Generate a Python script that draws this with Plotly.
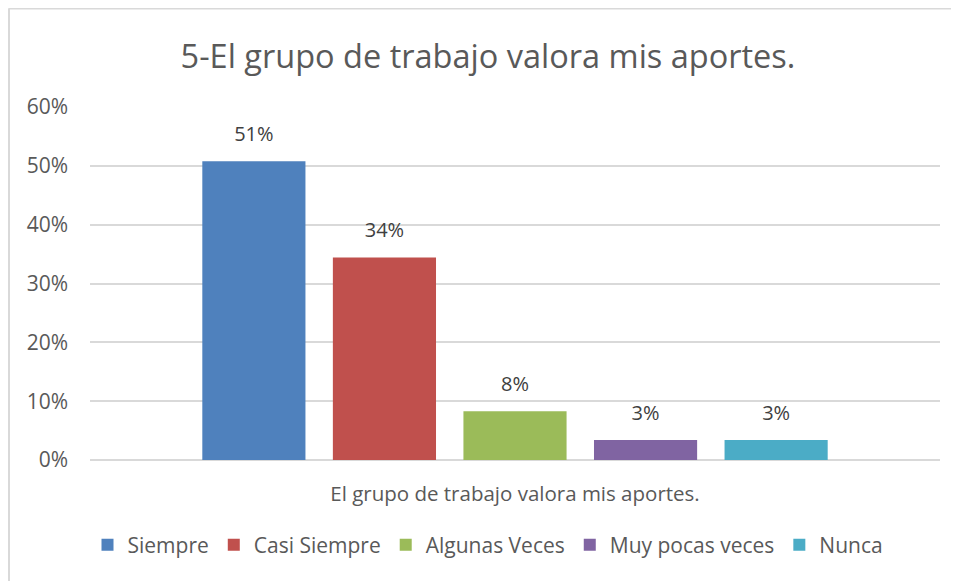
import plotly.graph_objects as go

category = ["El grupo de trabajo valora mis aportes."]
series_names = ["Siempre", "Casi Siempre", "Algunas Veces", "Muy pocas veces", "Nunca"]
values = [0.508, 0.344, 0.083, 0.034, 0.034]
labels = ["51%", "34%", "8%", "3%", "3%"]
colors = ["#4F81BD", "#C0504D", "#9BBB59", "#8064A2", "#4BACC6"]
y_ticks = [0, 0.1, 0.2, 0.3, 0.4, 0.5, 0.6]
y_tick_text = ["0%", "10%", "20%", "30%", "40%", "50%", "60%"]

FONT = "Open Sans"
TXT = "#595959"
OFF = 8  # page body margin

fig = go.Figure()
for name, v, lab, c in zip(series_names, values, labels, colors):
    fig.add_trace(go.Bar(
        x=category, y=[v], name=name, marker=dict(color=c, line=dict(width=0)),
        text=["<span style='font-size:20px'>" + lab + "</span><br> "],
        textposition="outside", cliponaxis=False,
        textfont=dict(family=FONT, size=11, color="#404040"),
    ))

W, H = 959 - OFF, 581 - OFF
L, R, T, B = 90 - OFF, 19, 107 - OFF, 121
pw, ph = W - L - R, H - T - B


def px2x(p):
    return (p - OFF - L) / pw


def py2y(p):
    return (H - B - (p - OFF)) / ph


fig.update_layout(
    width=W, height=H,
    margin=dict(l=L, r=R, t=T, b=B),
    paper_bgcolor="white", plot_bgcolor="white",
    barmode="group", bargap=0.232, bargroupgap=0.21,
    uniformtext=dict(mode=False),
    title=dict(text="5-El grupo de trabajo valora mis aportes.",
               x=px2x(488), xref="paper", xanchor="center",
               y=1 - (57 - OFF) / H, yref="container", yanchor="middle",
               font=dict(family=FONT, size=32.5, color=TXT)),
    font=dict(family=FONT, color=TXT),
    showlegend=True,
    legend=dict(orientation="h", x=px2x(488), xanchor="center",
                y=py2y(545), yanchor="middle",
                font=dict(family=FONT, size=21, color=TXT),
                itemwidth=30, tracegroupgap=0, traceorder="normal"),
    xaxis=dict(showline=False, ticks="", showgrid=False,
               tickfont=dict(family=FONT, size=20.5, color=TXT),
               ticklabelstandoff=19),
    yaxis=dict(range=[0, 0.6], tickvals=y_ticks, ticktext=y_tick_text,
               showgrid=True, gridcolor="#D9D9D9", gridwidth=1.5,
               zeroline=True, zerolinecolor="#D9D9D9", zerolinewidth=1.5,
               showline=False, ticks="",
               tickfont=dict(family=FONT, size=21, color=TXT),
               ticklabelstandoff=21),
)

# chart-area border (top and left visible)
fig.add_shape(type="line", xref="paper", yref="paper",
              x0=px2x(8.5), x1=px2x(970), y0=py2y(8.5), y1=py2y(8.5),
              line=dict(color="#D9D9D9", width=2))
fig.add_shape(type="line", xref="paper", yref="paper",
              x0=px2x(9), x1=px2x(9), y0=py2y(8.5), y1=py2y(600),
              line=dict(color="#D9D9D9", width=2))

fig.write_html("out.html")
